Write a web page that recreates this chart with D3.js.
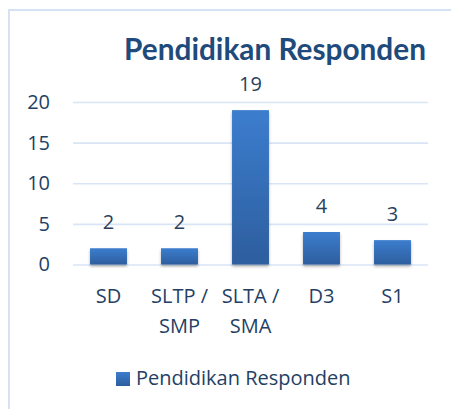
<!DOCTYPE html>
<html>
<head>
<meta charset="utf-8">
<script src="https://cdn.jsdelivr.net/npm/d3@7"></script>
<style>
  html, body { margin: 0; padding: 0; background: #fff; }
  svg { display: block; }
</style>
</head>
<body>
<div id="chart"></div>
<script>
// Data
const categories = [['SD'], ['SLTP /', 'SMP'], ['SLTA /', 'SMA'], ['D3'], ['S1']];
const values = [2, 2, 19, 4, 3];
const yTicks = [0, 5, 10, 15, 20];
const seriesName = 'Pendidikan Responden';
const title = 'Pendidikan Responden';

const W = 451, H = 409;
const font = '"Open Sans", Calibri, sans-serif';
const titleFont = 'Lato, Calibri, sans-serif';
const textColor = '#243f64';
const fs = '20px';
const plot = { left: 73, right: 428, top: 102, bottom: 264.5 };

const svg = d3.select('#chart').append('svg')
  .attr('width', W).attr('height', H)
  .style('font-family', font);

// ── Defs: gradient + shadow ────────────────────────────────────────────────
const defs = svg.append('defs');
const grad = defs.append('linearGradient')
  .attr('id', 'barGrad').attr('x1', 0).attr('y1', 0).attr('x2', 0).attr('y2', 1);
grad.append('stop').attr('offset', '0%').attr('stop-color', '#3c7dce');
grad.append('stop').attr('offset', '100%').attr('stop-color', '#2d5e9e');

const shadow = defs.append('filter').attr('id', 'shadow')
  .attr('x', '-20%').attr('y', '-20%').attr('width', '140%').attr('height', '140%');
shadow.append('feDropShadow')
  .attr('dx', 0).attr('dy', 2).attr('stdDeviation', 1.6)
  .attr('flood-color', '#000').attr('flood-opacity', 0.3);

// ── Chart border (left + top visible) ─────────────────────────────────────
svg.append('path')
  .attr('d', `M9,${H} L9,10 L${W},10`)
  .attr('fill', 'none')
  .attr('stroke', '#d5e2f3')
  .attr('stroke-width', 2);

// ── Scales ─────────────────────────────────────────────────────────────────
const x = d3.scaleBand()
  .domain(d3.range(categories.length))
  .range([plot.left, plot.right])
  .paddingInner(0.48).paddingOuter(0.24);

const y = d3.scaleLinear().domain([0, 20]).range([plot.bottom, plot.top]);

// ── Gridlines + y labels ───────────────────────────────────────────────────
const yAxis = svg.append('g')
  .attr('transform', `translate(${plot.left},0)`)
  .call(d3.axisLeft(y).tickValues(yTicks)
    .tickSize(-(plot.right - plot.left)).tickPadding(23));
yAxis.select('.domain').remove();
yAxis.selectAll('.tick line')
  .attr('stroke', '#d9e5f4').attr('stroke-width', 1.6);
yAxis.selectAll('.tick text')
  .attr('fill', textColor)
  .attr('font-size', fs)
  .attr('font-family', font);

// ── Bars ───────────────────────────────────────────────────────────────────
svg.append('g').selectAll('rect')
  .data(values)
  .join('rect')
  .attr('x', (d, i) => x(i))
  .attr('y', d => y(d))
  .attr('width', x.bandwidth())
  .attr('height', d => y(0) - y(d))
  .attr('fill', 'url(#barGrad)')
  .attr('filter', 'url(#shadow)');

// ── Data labels ────────────────────────────────────────────────────────────
svg.append('g').selectAll('text')
  .data(values)
  .join('text')
  .attr('x', (d, i) => x(i) + x.bandwidth() / 2)
  .attr('y', d => y(d) - 19)
  .attr('text-anchor', 'middle')
  .attr('font-size', fs)
  .attr('fill', '#2b3f5c')
  .text(d => d);

// ── X labels ───────────────────────────────────────────────────────────────
const xl = svg.append('g').selectAll('text')
  .data(categories)
  .join('text')
  .attr('x', (d, i) => x(i) + x.bandwidth() / 2)
  .attr('y', 303)
  .attr('text-anchor', 'middle')
  .attr('font-size', fs)
  .attr('fill', textColor);
xl.selectAll('tspan')
  .data(d => d)
  .join('tspan')
  .attr('x', function() { return this.parentNode.getAttribute('x'); })
  .attr('dy', (d, j) => j === 0 ? 0 : 30)
  .text(d => d);

// ── Title ──────────────────────────────────────────────────────────────────
const t = svg.append('text')
  .attr('x', 275)
  .attr('y', 60)
  .attr('text-anchor', 'middle')
  .attr('font-family', titleFont)
  .attr('font-size', '28px')
  .attr('font-weight', 'bold')
  .attr('fill', '#1f4a7c')
  .text(title);
// fit to reference width
const tw = t.node().getComputedTextLength();
t.attr('font-size', (28 * 302 / tw).toFixed(2) + 'px');

// ── Legend ─────────────────────────────────────────────────────────────────
const legend = svg.append('g');
legend.append('rect')
  .attr('x', 116).attr('y', 372)
  .attr('width', 14).attr('height', 14)
  .attr('fill', 'url(#barGrad)');
legend.append('text')
  .attr('x', 136).attr('y', 385)
  .attr('font-size', fs)
  .attr('fill', textColor)
  .text(seriesName);
</script>
</body>
</html>
